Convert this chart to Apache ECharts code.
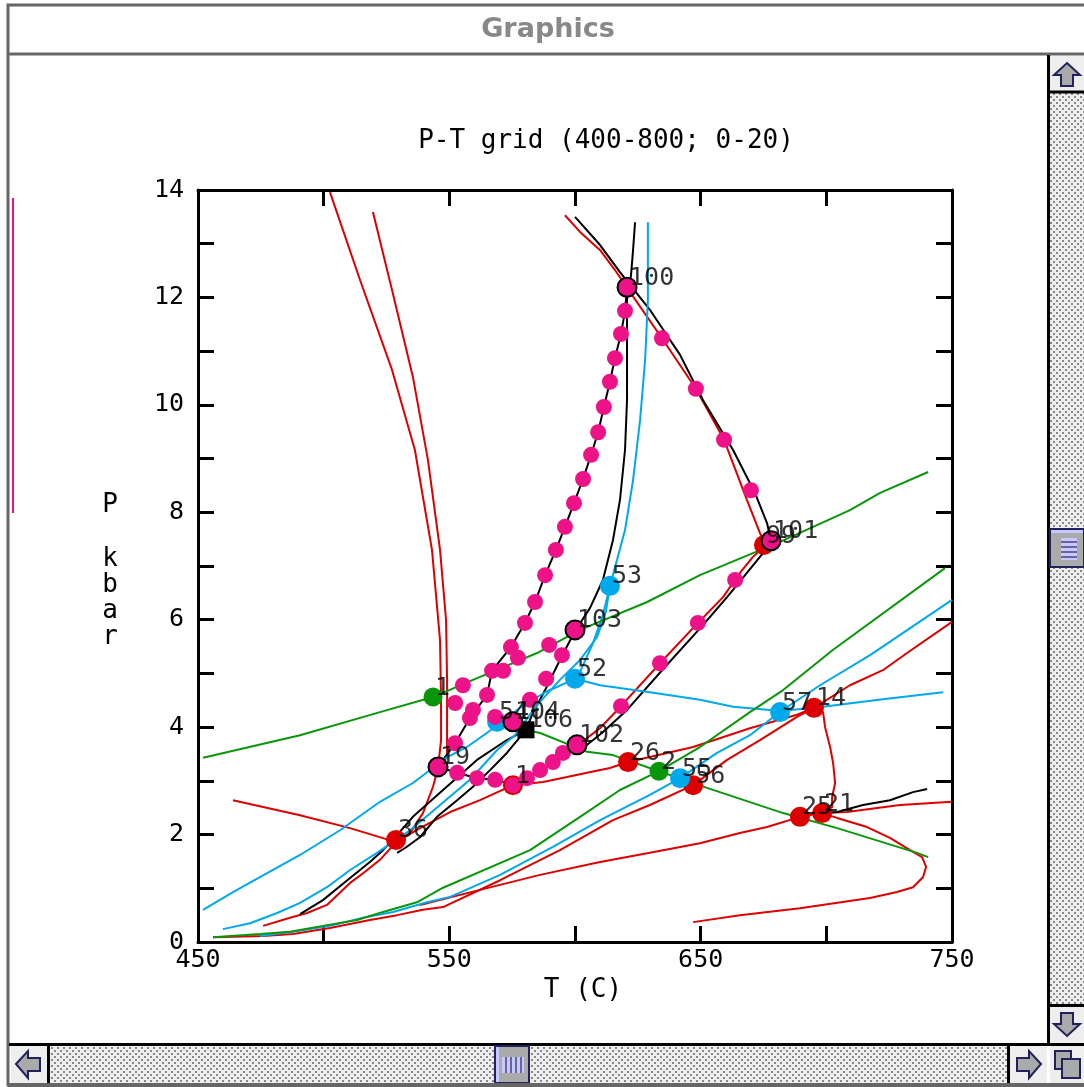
<!DOCTYPE html>
<html>
<head>
<meta charset="utf-8">
<script src="https://cdn.jsdelivr.net/npm/echarts@6/dist/echarts.min.js"></script>
<style>
  html, body { margin: 0; padding: 0; background: #fff; }
  #chart { width: 1084px; height: 1087px; }
</style>
</head>
<body>
<div id="chart"></div>
<script>
// axis ticks
const tLabels = [450, 550, 650, 750];
const pLabels = [0, 2, 4, 6, 8, 10, 12, 14];

// reaction curves [T, P]
const redTopLeft = [[502.5,13.96],[514.5,12.32],[527.2,10.65],[536.3,9.16],[543.1,7.30],[546.3,5.62],[546.7,4.51],[546.7,3.76],[545.5,3.24],[543.5,2.89],[539.5,2.40],[534.4,2.03],[528.8,1.86],[522.4,1.53],[515.7,1.28],[510.5,1.10],[501.3,0.69],[493.4,0.54],[486.6,0.45],[475.9,0.30]];
const redTopMid = [[519.6,13.59],[527.2,12.14],[535.5,10.52],[541.5,8.97],[546.3,7.30],[548.7,5.99],[549.1,4.88],[549.1,3.44],[545.5,3.24]];
const redLeft = [[463.9,2.64],[490.6,2.36],[510.5,2.12],[528.8,1.86]];
const red36to14 = [[528.8,1.86],[538.3,2.12],[550.3,2.42],[562.2,2.64],[575.3,2.92],[587.3,2.98],[596.8,3.07],[604.8,3.15],[613.9,3.24],[621.1,3.35],[647.0,3.63],[669.6,3.98],[688.3,4.23],[695.1,4.36]];
const red14to21 = [[695.1,4.36],[698.7,4.28],[699.5,4.00],[701.5,3.63],[702.7,3.33],[703.5,2.96],[702.3,2.70],[702.3,2.51],[698.3,2.40]];
const redBundle = [[456.0,0.09],[475.9,0.11],[487.8,0.15],[502.5,0.26],[518.4,0.41],[529.2,0.50],[539.5,0.60],[547.5,0.65],[570.2,1.15],[594.0,1.71],[615.1,2.27],[629.8,2.55],[647.0,2.92],[660.5,3.39],[673.6,3.76],[688.3,4.19],[695.1,4.36],[709.4,4.78],[722.5,5.06],[732.1,5.38],[750,5.96]];
const red25 = [[689.5,2.33],[676.4,2.14],[665.6,2.03],[649.7,1.84],[629.8,1.66],[610.0,1.49],[586.1,1.25],[562.2,0.97],[538.3,0.69]];
const red21right = [[689.5,2.33],[698.3,2.40],[708.2,2.42],[729.3,2.55],[750,2.61]];
const red21loop = [[698.3,2.40],[704.3,2.31],[716.2,2.14],[725.3,1.94],[733.3,1.71],[738.1,1.58],[739.7,1.40],[738.5,1.21],[734.5,1.02],[728.1,0.93],[717.4,0.82],[689.5,0.63],[665.6,0.50],[647.0,0.37]];
const red100to102 = [[596.0,13.53],[602.0,13.22],[610.0,12.88],[615.9,12.51],[621.9,12.10],[634.6,11.24],[648.1,10.30],[659.3,9.35],[668.4,8.23],[673.6,7.61],[676.0,7.39],[670.8,7.17],[665.6,6.87],[658.9,6.42],[648.9,5.94],[633.8,5.19],[618.3,4.39],[609.9,3.98],[601.2,3.67]];

const black100to102 = [[600.0,13.50],[609.9,12.98],[617.9,12.47],[629.8,11.77],[641.8,10.93],[650.9,10.09],[662.9,9.16],[671.6,8.36],[676.4,7.80],[678.0,7.47],[674.8,7.24],[668.4,6.87],[660.5,6.42],[650.9,5.90],[635.8,5.12],[620.7,4.32],[610.7,3.89],[603.2,3.61]];
const blackMain = [[623.9,13.40],[623.1,12.88],[622.3,12.42],[620.7,11.95],[620.7,11.02],[620.7,10.09],[619.9,9.16],[617.9,8.23],[615.1,7.48],[611.1,6.74],[606.0,6.22],[600.0,5.79],[594.0,5.25],[588.1,4.69],[582.9,4.23],[580.5,3.95]];
const blackLow1 = [[580.5,3.95],[572.9,3.76],[561.0,3.39],[547.5,2.83],[535.5,2.33],[529.2,1.99],[523.6,1.71],[518.4,1.49],[510.5,1.19],[499.7,0.78],[490.6,0.52]];
const blackLow2 = [[580.5,3.95],[572.9,3.52],[566.2,3.20],[559.4,2.89],[553.1,2.64],[545.1,2.33],[538.3,1.95],[532.4,1.75],[529.2,1.66]];
const blackOuter = [[620.7,12.19],[619.9,11.75],[618.3,11.32],[615.9,10.87],[613.9,10.43],[611.5,9.96],[609.2,9.49],[606.4,9.07],[603.2,8.62],[599.6,8.17],[596.0,7.73],[592.4,7.30],[588.1,6.83],[584.1,6.33],[580.1,5.94],[574.5,5.49],[567.0,5.05],[565.0,4.60],[558.2,4.17],[552.3,3.70],[545.5,3.26]];
const blackBottomArc = [[601.2,3.67],[595.2,3.52],[591.2,3.35],[586.1,3.20],[580.9,3.05],[575.3,2.92],[568.2,3.02],[561.0,3.05],[553.1,3.15],[545.5,3.26]];
const black21right = [[698.3,2.40],[704.3,2.42],[714.6,2.55],[725.3,2.64],[734.5,2.79],[740.1,2.85]];

const blueMain = [[452.0,0.60],[463.9,0.93],[477.5,1.28],[490.6,1.62],[506.5,2.08],[522.4,2.61],[535.5,2.96],[549.1,3.44],[557.0,3.63],[569.4,4.04],[578.1,4.36],[588.1,4.65],[600.0,4.90],[602.0,5.03],[607.2,5.57],[611.1,6.09],[613.9,6.63],[616.7,7.11],[619.9,7.67],[623.1,8.60],[625.9,9.72],[627.9,10.84],[629.0,11.95],[629.0,13.40]];
const blue2 = [[459.9,0.24],[470.7,0.35],[481.5,0.54],[490.6,0.73],[501.3,1.02],[510.5,1.34],[521.2,1.66],[534.4,2.08],[546.3,2.55],[558.2,3.02],[568.9,3.57],[576.1,3.85],[584.9,4.41],[594.0,4.88],[602.0,5.25],[608.8,5.68],[612.3,6.15],[613.9,6.63]];
const blue52to57 = [[600.0,4.90],[610.0,4.78],[629.8,4.65],[649.7,4.51],[662.9,4.38],[677.6,4.32],[682.0,4.30],[698.7,4.38],[722.5,4.52],[746.4,4.65]];
const blueBundle = [[474.7,0.11],[487.8,0.19],[502.5,0.30],[515.7,0.45],[527.6,0.56],[541.1,0.74],[550.3,0.84],[570.2,1.25],[591.2,1.77],[610.0,2.27],[629.8,2.74],[641.8,3.05],[656.5,3.52],[669.6,3.85],[682.0,4.30],[697.5,4.78],[717.4,5.34],[750,6.37]];

const green1 = [[452.0,3.43],[490.6,3.85],[522.4,4.28],[543.5,4.56],[559.4,4.88],[584.9,5.38],[602.0,5.81],[628.7,6.33],[649.7,6.83],[681.6,7.45],[709.4,8.04],[721.4,8.36],[740.5,8.75]];
const green2 = [[580.5,3.95],[586.1,3.89],[604.8,3.54],[615.1,3.48],[633.4,3.18],[652.5,2.87],[682.8,2.40],[704.3,2.12],[736.1,1.66],[740.5,1.58]];
const green3 = [[456.0,0.09],[474.7,0.15],[486.6,0.19],[499.7,0.30],[513.3,0.41],[523.6,0.56],[537.1,0.74],[547.5,1.01],[582.1,1.71],[602.0,2.33],[617.9,2.83],[633.4,3.18],[649.7,3.63],[669.6,4.28],[682.8,4.69],[702.7,5.44],[747.2,6.96]];

// invariant points / path markers
const pinkBig = [[620.7,12.19],[678.0,7.47],[600.0,5.81],[575.3,4.10],[600.8,3.67],[545.5,3.26]];
const pinkSmall = [[634.6,11.24],[648.1,10.30],[659.3,9.35],[670.0,8.41],[663.7,6.74],[648.9,5.94],[633.8,5.19],[618.3,4.39],
  [595.2,3.52],[591.2,3.35],[586.1,3.20],[580.9,3.05],[575.3,2.92],[568.2,3.02],[561.0,3.05],[553.1,3.15],
  [619.9,11.75],[618.3,11.32],[615.9,10.87],[613.9,10.43],[611.5,9.96],[609.2,9.49],[606.4,9.07],[603.2,8.62],[599.6,8.17],[596.0,7.73],[592.4,7.30],[588.1,6.83],[584.1,6.33],[580.1,5.94],[574.5,5.49],
  [567.0,5.05],[571.4,5.05],[555.4,4.78],[565.0,4.60],[552.3,4.45],[559.4,4.32],[558.2,4.17],[568.2,4.19],[552.3,3.70],
  [589.7,5.53],[594.8,5.34],[588.5,4.90],[582.1,4.51],[577.3,5.29]];
const redDots = [[528.8,1.90],[621.1,3.35],[647.0,2.92],[695.1,4.36],[689.5,2.33],[698.3,2.40],[575.3,2.92],[675.2,7.39]];
const blueDots = [[613.9,6.63],[600.0,4.90],[569.0,4.10],[641.8,3.05],[681.6,4.28]];
const greenDots = [[543.5,4.56],[633.4,3.18]];
const blackDots = [[580.5,3.95]];

const pointNames = ['100','99','101','103','53','52','1','54','104','106','102','19','36','26','2','55','56','57','14','25','21','1'];
const pointAt = [[620.7,12.19],[675.2,7.39],[678.0,7.47],[600.0,5.81],[613.9,6.63],[600.0,4.90],[543.5,4.56],[569.0,4.10],[575.3,4.10],[580.5,3.95],[600.8,3.67],[545.5,3.26],[528.8,1.90],[621.1,3.35],[633.4,3.18],[641.8,3.05],[647.0,2.92],[681.6,4.28],[695.1,4.36],[689.5,2.33],[698.3,2.40],[575.3,2.92]];

const PINK = '#ee1289', RED = '#dd0000', BLUE = '#00a8ec', GREEN = '#0a960a';
const MONO = '"DejaVu Sans Mono", monospace';

function curve(data, color) {
  return { type: 'line', data: data, symbol: 'none', silent: true, z: 2,
    lineStyle: { color: color, width: 2 } };
}
function dots(data, color, size, border) {
  return { type: 'scatter', data: data, symbolSize: size, z: border ? 6 : 5, silent: true,
    itemStyle: { color: color, opacity: 1, borderColor: '#000', borderWidth: border ? 2 : 0 } };
}

function dotted() {
  const c = document.createElement('canvas');
  c.width = 6; c.height = 6;
  const g = c.getContext('2d');
  g.fillStyle = '#eeeeee'; g.fillRect(0, 0, 6, 6);
  g.fillStyle = '#888888'; g.fillRect(0, 0, 2, 2); g.fillRect(3, 3, 2, 2);
  return c;
}

const chart = echarts.init(document.getElementById('chart'), null, { renderer: 'canvas' });
const pat = { image: dotted(), repeat: 'repeat' };
const EDGE = '#22225a', LAV = '#c8c8ff';

const axisCommon = {
  axisLine: { onZero: false, lineStyle: { color: '#000', width: 3 } },
  axisTick: { inside: true, length: 16, lineStyle: { color: '#000', width: 3 } },
  splitLine: { show: false }
};

chart.setOption({
  animation: false,
  backgroundColor: '#fff',
  grid: { left: 198, top: 190, width: 754, height: 752 },
  xAxis: [
    Object.assign({ type: 'value', min: 450, max: 750, interval: 50, position: 'bottom',
      axisLabel: { formatter: v => tLabels.indexOf(v) >= 0 ? String(v) : '', fontFamily: MONO,
        fontSize: 25, color: '#000', margin: 6, showMinLabel: true, showMaxLabel: true } }, axisCommon),
    Object.assign({ type: 'value', min: 450, max: 750, interval: 50, position: 'top',
      axisLabel: { show: false } }, axisCommon)
  ],
  yAxis: [
    Object.assign({ type: 'value', min: 0, max: 14, interval: 1, position: 'left',
      axisLabel: { formatter: v => pLabels.indexOf(v) >= 0 ? String(v) : '', fontFamily: MONO,
        fontSize: 25, color: '#000', margin: 14, showMinLabel: true, showMaxLabel: true } }, axisCommon),
    Object.assign({ type: 'value', min: 0, max: 14, interval: 1, position: 'right',
      axisLabel: { show: false } }, axisCommon)
  ],
  series: [
    curve(redTopLeft, RED), curve(redTopMid, RED), curve(redLeft, RED), curve(red36to14, RED),
    curve(red14to21, RED), curve(redBundle, RED), curve(red25, RED), curve(red21right, RED),
    curve(red21loop, RED), curve(red100to102, RED),
    curve(black100to102, '#000'), curve(blackMain, '#000'), curve(blackLow1, '#000'),
    curve(blackLow2, '#000'), curve(blackOuter, '#000'), curve(blackBottomArc, '#000'),
    curve(black21right, '#000'),
    curve(blueMain, BLUE), curve(blue2, BLUE), curve(blue52to57, BLUE), curve(blueBundle, BLUE),
    curve(green1, GREEN), curve(green2, GREEN), curve(green3, GREEN),
    dots(redDots, RED, 20), dots(blueDots, BLUE, 20), dots(greenDots, GREEN, 19),
    Object.assign(dots(blackDots, '#000', 17), { symbol: 'rect' }),
    dots(pinkSmall, PINK, 16), dots(pinkBig, PINK, 19, true),
    {
      type: 'scatter', symbolSize: 0, z: 10, silent: true,
      data: pointNames.map((n, i) => ({ name: n, value: pointAt[i] })),
      label: { show: true, formatter: '{b}', position: [2, -9], align: 'left', verticalAlign: 'middle',
        fontFamily: MONO, fontSize: 25, color: '#000' }
    }
  ],
  graphic: [
    // window frame
    { type: 'rect', shape: { x: 8, y: 5, width: 1080, height: 1080 }, style: { fill: null, stroke: '#666', lineWidth: 3 }, silent: true },
    { type: 'line', shape: { x1: 8, y1: 54, x2: 1084, y2: 54 }, style: { stroke: '#666', lineWidth: 3 } },
    { type: 'text', x: 548, y: 30, style: { text: 'Graphics', fill: '#888', font: 'bold 27px "DejaVu Sans", sans-serif', align: 'center', verticalAlign: 'middle' } },
    { type: 'line', shape: { x1: 13, y1: 198, x2: 13, y2: 513 }, style: { stroke: PINK, lineWidth: 2 } },
    // texts
    { type: 'text', x: 606, y: 141, style: { text: 'P-T grid (400-800; 0-20)', fill: '#000', font: '26px ' + MONO, align: 'center', verticalAlign: 'middle' } },
    { type: 'text', x: 583, y: 990, style: { text: 'T (C)', fill: '#000', font: '26px ' + MONO, align: 'center', verticalAlign: 'middle' } },
    { type: 'text', x: 110, y: 505, style: { text: 'P', fill: '#000', font: '26px ' + MONO, align: 'center', verticalAlign: 'middle' } },
    { type: 'text', x: 110, y: 559, style: { text: 'k', fill: '#000', font: '26px ' + MONO, align: 'center', verticalAlign: 'middle' } },
    { type: 'text', x: 110, y: 585, style: { text: 'b', fill: '#000', font: '26px ' + MONO, align: 'center', verticalAlign: 'middle' } },
    { type: 'text', x: 110, y: 611, style: { text: 'a', fill: '#000', font: '26px ' + MONO, align: 'center', verticalAlign: 'middle' } },
    { type: 'text', x: 110, y: 637, style: { text: 'r', fill: '#000', font: '26px ' + MONO, align: 'center', verticalAlign: 'middle' } },
    // right scroll bar
    { type: 'rect', shape: { x: 1050, y: 92, width: 34, height: 914 }, style: { fill: pat } },
    { type: 'rect', shape: { x: 1050, y: 56, width: 34, height: 35 }, style: { fill: '#eeeeee' } },
    { type: 'line', shape: { x1: 1048.5, y1: 55, x2: 1048.5, y2: 1044 }, style: { stroke: '#000', lineWidth: 3 } },
    { type: 'line', shape: { x1: 1048, y1: 92, x2: 1084, y2: 92 }, style: { stroke: '#000', lineWidth: 3 } },
    { type: 'polygon', shape: { points: [[1067,63],[1080,75],[1073,75],[1073,86],[1061,86],[1061,75],[1054,75]] }, style: { fill: '#aaa', stroke: EDGE, lineWidth: 2 } },
    { type: 'rect', shape: { x: 1050, y: 529, width: 34, height: 38 }, style: { fill: '#aaaaaa', stroke: EDGE, lineWidth: 2 } },
    { type: 'rect', shape: { x: 1051, y: 530, width: 32, height: 3 }, style: { fill: LAV } },
    { type: 'rect', shape: { x: 1061, y: 538, width: 16, height: 22 }, style: { fill: LAV } },
    { type: 'rect', shape: { x: 1061, y: 541, width: 16, height: 2 }, style: { fill: '#66669a' } },
    { type: 'rect', shape: { x: 1061, y: 546, width: 16, height: 2 }, style: { fill: '#66669a' } },
    { type: 'rect', shape: { x: 1061, y: 551, width: 16, height: 2 }, style: { fill: '#66669a' } },
    { type: 'rect', shape: { x: 1061, y: 556, width: 16, height: 2 }, style: { fill: '#66669a' } },
    { type: 'rect', shape: { x: 1050, y: 1007, width: 34, height: 36 }, style: { fill: '#eeeeee' } },
    { type: 'line', shape: { x1: 1048, y1: 1005.5, x2: 1084, y2: 1005.5 }, style: { stroke: '#000', lineWidth: 3 } },
    { type: 'polygon', shape: { points: [[1067,1036],[1080,1024],[1073,1024],[1073,1013],[1061,1013],[1061,1024],[1054,1024]] }, style: { fill: '#aaa', stroke: EDGE, lineWidth: 2 } },
    // bottom scroll bar
    { type: 'rect', shape: { x: 50, y: 1046, width: 958, height: 37 }, style: { fill: pat } },
    { type: 'line', shape: { x1: 9, y1: 1044.5, x2: 1084, y2: 1044.5 }, style: { stroke: '#000', lineWidth: 3 } },
    { type: 'rect', shape: { x: 11, y: 1046, width: 36, height: 37 }, style: { fill: '#eeeeee' } },
    { type: 'line', shape: { x1: 48.5, y1: 1044, x2: 48.5, y2: 1084 }, style: { stroke: '#000', lineWidth: 3 } },
    { type: 'polygon', shape: { points: [[16,1064],[28,1051],[28,1058],[40,1058],[40,1071],[28,1071],[28,1078]] }, style: { fill: '#aaa', stroke: EDGE, lineWidth: 2 } },
    { type: 'rect', shape: { x: 495, y: 1046, width: 34, height: 37 }, style: { fill: '#aaaaaa', stroke: EDGE, lineWidth: 2 } },
    { type: 'rect', shape: { x: 496, y: 1047, width: 3, height: 35 }, style: { fill: LAV } },
    { type: 'rect', shape: { x: 502, y: 1057, width: 22, height: 16 }, style: { fill: LAV } },
    { type: 'rect', shape: { x: 505, y: 1057, width: 2, height: 16 }, style: { fill: '#66669a' } },
    { type: 'rect', shape: { x: 510, y: 1057, width: 2, height: 16 }, style: { fill: '#66669a' } },
    { type: 'rect', shape: { x: 515, y: 1057, width: 2, height: 16 }, style: { fill: '#66669a' } },
    { type: 'rect', shape: { x: 520, y: 1057, width: 2, height: 16 }, style: { fill: '#66669a' } },
    { type: 'rect', shape: { x: 1010, y: 1046, width: 37, height: 37 }, style: { fill: '#eeeeee' } },
    { type: 'line', shape: { x1: 1008.5, y1: 1044, x2: 1008.5, y2: 1084 }, style: { stroke: '#000', lineWidth: 3 } },
    { type: 'polygon', shape: { points: [[1041,1064],[1029,1051],[1029,1058],[1017,1058],[1017,1071],[1029,1071],[1029,1078]] }, style: { fill: '#aaa', stroke: EDGE, lineWidth: 2 } },
    { type: 'rect', shape: { x: 1050, y: 1046, width: 34, height: 37 }, style: { fill: '#eeeeee' } },
    { type: 'rect', shape: { x: 1055, y: 1051, width: 16, height: 18 }, style: { fill: '#aaa', stroke: EDGE, lineWidth: 2 } },
    { type: 'rect', shape: { x: 1062, y: 1059, width: 18, height: 19 }, style: { fill: '#aaa', stroke: EDGE, lineWidth: 2 } },
    { type: 'line', shape: { x1: 8, y1: 1085, x2: 1084, y2: 1085 }, style: { stroke: '#666', lineWidth: 4 } }
  ]
});
</script>
</body>
</html>
